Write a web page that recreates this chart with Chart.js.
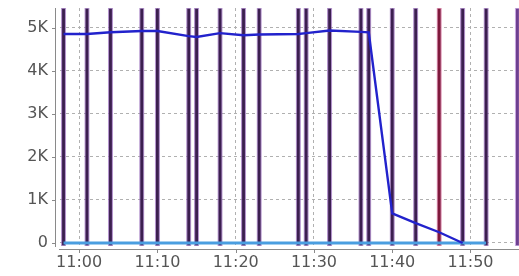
<!DOCTYPE html>
<html>
<head>
<meta charset="utf-8">
<script src="https://cdn.jsdelivr.net/npm/chart.js@4/dist/chart.umd.min.js"></script>
<style>
  body { margin: 0; background: #fff; }
  #wrap { width: 519px; height: 276px; }
</style>
</head>
<body>
<div id="wrap"><canvas id="chart" width="519" height="276"></canvas></div>
<script>
// minutes after 11:00
var eventTimes = [-2, 1, 4, 8, 10, 14, 15, 18, 21, 23, 28, 29, 32, 36, 37, 40, 43, 46, 49, 52, 56];
var eventKinds = ['n','n','n','n','n','n','n','n','n','n','n','n','n','n','n','n','n','r','n','n','l'];

var valueTimes = [-2, 1, 4, 8, 10, 14, 15, 18, 21, 23, 28, 29, 32, 36, 37, 40, 43, 46, 49];
var values = [4860, 4860, 4900, 4930, 4930, 4810, 4790, 4880, 4830, 4850, 4860, 4880, 4940, 4910, 4900, 690, 460, 250, 0];

var baseTimes = [-2, 1, 4, 8, 10, 14, 15, 18, 21, 23, 28, 29, 32, 36, 37, 40, 43, 46, 49, 52];
var baseValues = [0, 0, 0, 0, 0, 0, 0, 0, 0, 0, 0, 0, 0, 0, 0, 0, 0, 0, 0, 0];

var xTickValues = [0, 10, 20, 30, 40, 50];
var xTickLabels = ['11:00', '11:10', '11:20', '11:30', '11:40', '11:50'];
var yTickValues = [0, 1000, 2000, 3000, 4000, 5000];
var yTickLabels = ['0', '1K', '2K', '3K', '4K', '5K'];

var yMin = -70, yMax = 5465;
var xMin = -2.45, xMax = 56.2;

var fillColors = { n: '#3c1f50', r: '#7e1a3c', l: '#6e4090' };
var edgeColors = { n: 'rgba(150,105,185,0.7)', r: 'rgba(205,100,145,0.7)', l: 'rgba(185,145,215,0.8)' };

// axis lines sit a few pixels away from the plot, like the original
var axisLines = {
    id: 'axisLines',
    afterDraw: function(chart) {
        var ctx = chart.ctx;
        var a = chart.chartArea;
        var xs = chart.scales.x, ys = chart.scales.y;
        ctx.save();
        ctx.strokeStyle = '#8a8a8a';
        ctx.lineWidth = 1;
        ctx.beginPath();
        ctx.moveTo(55.5, a.top);
        ctx.lineTo(55.5, a.bottom + 1);
        ys.ticks.forEach(function(t) {
            var y = Math.round(ys.getPixelForValue(t.value)) + 0.5;
            ctx.moveTo(52, y);
            ctx.lineTo(56, y);
        });
        ctx.moveTo(a.left - 1, a.bottom + 3.5);
        ctx.lineTo(a.right, a.bottom + 3.5);
        xs.ticks.forEach(function(t) {
            var x = Math.round(xs.getPixelForValue(t.value)) + 0.5;
            ctx.moveTo(x, a.bottom + 3);
            ctx.lineTo(x, a.bottom + 7);
        });
        ctx.stroke();
        ctx.restore();
    }
};

Chart.defaults.font.family = 'DejaVu Sans';

new Chart(document.getElementById('chart').getContext('2d'), {
    type: 'bar',
    data: {
        datasets: [
            {
                type: 'line',
                data: valueTimes.map(function(t, i) { return { x: t, y: values[i] }; }),
                borderColor: '#2222cc',
                borderWidth: 2.4,
                pointRadius: 0,
                tension: 0,
                order: 0
            },
            {
                type: 'line',
                data: baseTimes.map(function(t, i) { return { x: t, y: baseValues[i] }; }),
                borderColor: '#4a9ee0',
                borderWidth: 3,
                pointRadius: 0,
                tension: 0,
                order: 1
            },
            {
                type: 'bar',
                data: eventTimes.map(function(t) { return { x: t, y: [yMin, yMax] }; }),
                backgroundColor: eventKinds.map(function(k) { return fillColors[k]; }),
                borderColor: eventKinds.map(function(k) { return edgeColors[k]; }),
                borderWidth: 1.2,
                borderSkipped: false,
                barThickness: 4.6,
                order: 2
            }
        ]
    },
    options: {
        responsive: false,
        animation: false,
        layout: { padding: { top: 8, right: 0, left: 0, bottom: 0 } },
        plugins: {
            legend: { display: false },
            tooltip: { enabled: false }
        },
        scales: {
            x: {
                type: 'linear',
                min: xMin,
                max: xMax,
                offset: false,
                afterBuildTicks: function(s) { s.ticks = xTickValues.map(function(v) { return { value: v }; }); },
                afterFit: function(s) { s.height = 30; s.paddingLeft = 0; s.paddingRight = 0; },
                grid: {
                    offset: false,
                    color: '#b0b0b0',
                    drawTicks: false
                },
                border: { display: false, dash: [3, 3] },
                ticks: {
                    maxRotation: 0,
                    autoSkip: false,
                    padding: 7,
                    color: '#555',
                    font: { size: 16 },
                    callback: function(v) { return xTickLabels[xTickValues.indexOf(v)]; }
                }
            },
            y: {
                min: yMin,
                max: yMax,
                afterBuildTicks: function(s) { s.ticks = yTickValues.map(function(v) { return { value: v }; }); },
                afterFit: function(s) { s.width = 60; s.paddingTop = 0; s.paddingBottom = 0; },
                grid: {
                    color: '#b0b0b0',
                    drawTicks: false
                },
                border: { display: false, dash: [3, 3] },
                ticks: {
                    autoSkip: false,
                    padding: 12,
                    color: '#555',
                    font: { size: 16 },
                    callback: function(v) { return yTickLabels[yTickValues.indexOf(v)]; }
                }
            }
        }
    },
    plugins: [axisLines]
});
</script>
</body>
</html>
